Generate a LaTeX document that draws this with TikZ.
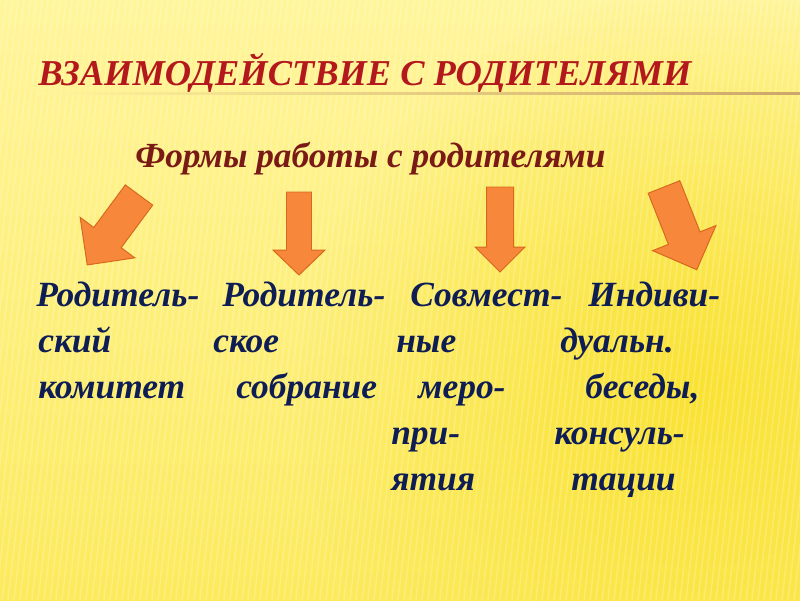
\documentclass[tikz,border=0pt]{standalone}
\usepackage{fontspec}
\setmainfont{Liberation Serif}
\usepackage{tikz}
\usetikzlibrary{positioning, fadings}

\definecolor{slidebg}{RGB}{255,245,155}
\definecolor{slidelow}{RGB}{252,234,92}
\definecolor{slidesun}{RGB}{250,226,50}
\definecolor{titlered}{RGB}{178,24,28}
\definecolor{subbrown}{RGB}{122,26,22}
\definecolor{bodynavy}{RGB}{15,29,85}
\definecolor{arrowfill}{RGB}{247,135,59}
\definecolor{arrowline}{RGB}{215,104,30}
\definecolor{ruletan}{RGB}{205,165,105}

\tikzfading[name=sunfade, inner color=transparent!0, outer color=transparent!100]

\tikzset{
  titletext/.style={anchor=base west, inner sep=0pt, text=titlered,
    font=\fontsize{25.9}{30}\selectfont\bfseries\itshape},
  subtext/.style={anchor=base west, inner sep=0pt, text=subbrown,
    font=\fontsize{25.1}{30}\selectfont\bfseries\itshape},
  formtext/.style={anchor=base west, inner sep=0pt, text=bodynavy,
    font=\fontsize{25.2}{30}\selectfont\bfseries\itshape},
  blockarrow/.style={fill=arrowfill, draw=arrowline, line width=0.7pt, line join=miter}
}

\begin{document}
\begin{tikzpicture}[x=0.025cm, y=-0.025cm]
                % Background of the slide
                \useasboundingbox (0,0) rectangle (800,600);
                \begin{scope}
                \clip (0,0) rectangle (800,600);
                \shade[top color=slidebg, bottom color=slidelow] (0,0) rectangle (800,600);
                \fill[slidesun, path fading=sunfade] (700,390) circle (400);
                \foreach \s in {-100,-94,...,800}
                    \draw[white, opacity=0.2, line width=1.2pt] (\s,600) -- (\s+70,0);
                \end{scope}
                
                % Title and its rule
                \node[titletext] (title) at (38,85) {ВЗАИМОДЕЙСТВИЕ С РОДИТЕЛЯМИ};
                \shade[left color=slidebg, right color=ruletan] (38,92) rectangle (800,94);
                
                % Subtitle
                \node[subtext] (forms) at (135,167) {Формы работы с родителями};
                
                % Four block arrows
                \draw[blockarrow, shift={(139,195)}, rotate=-36.5]
                    (-17,0) -- (17,0) -- (17,53) -- (34,53) -- (0,87) -- (-34,53) -- (-17,53) -- cycle;
                \draw[blockarrow, shift={(299,192)}]
                    (-12.5,0) -- (12.5,0) -- (12.5,58) -- (26,58) -- (0,83) -- (-26,58) -- (-12.5,58) -- cycle;
                \draw[blockarrow, shift={(500,187)}]
                    (-13.5,0) -- (13.5,0) -- (13.5,60) -- (25,60) -- (0,85) -- (-25,60) -- (-13.5,60) -- cycle;
                \draw[blockarrow, shift={(664,187)}, rotate=21.6]
                    (-17,0) -- (17,0) -- (17,55) -- (34,55) -- (0,89) -- (-34,55) -- (-17,55) -- cycle;
                
                % Forms of work, column by column
                \node[formtext] (c1r1) at (36,306) {Родитель-};
                \node[formtext] (c1r2) at (38,352) {ский};
                \node[formtext] (c1r3) at (38,398) {комитет};
                
                \node[formtext] (c2r1) at (222,306) {Родитель-};
                \node[formtext] (c2r2) at (213,352) {ское};
                \node[formtext] (c2r3) at (236,398) {собрание};
                
                \node[formtext] (c3r1) at (410,306) {Совмест-};
                \node[formtext] (c3r2) at (396,352) {ные};
                \node[formtext] (c3r3) at (418,398) {меро-};
                \node[formtext] (c3r4) at (391,444) {при-};
                \node[formtext] (c3r5) at (391,490) {ятия};
                
                \node[formtext] (c4r1) at (588,306) {Индиви-};
                \node[formtext] (c4r2) at (560,352) {дуальн.};
                \node[formtext] (c4r3) at (585,398) {беседы,};
                \node[formtext] (c4r4) at (554,444) {консуль-};
                \node[formtext] (c4r5) at (571,490) {тации};
            \end{tikzpicture}
\end{document}
